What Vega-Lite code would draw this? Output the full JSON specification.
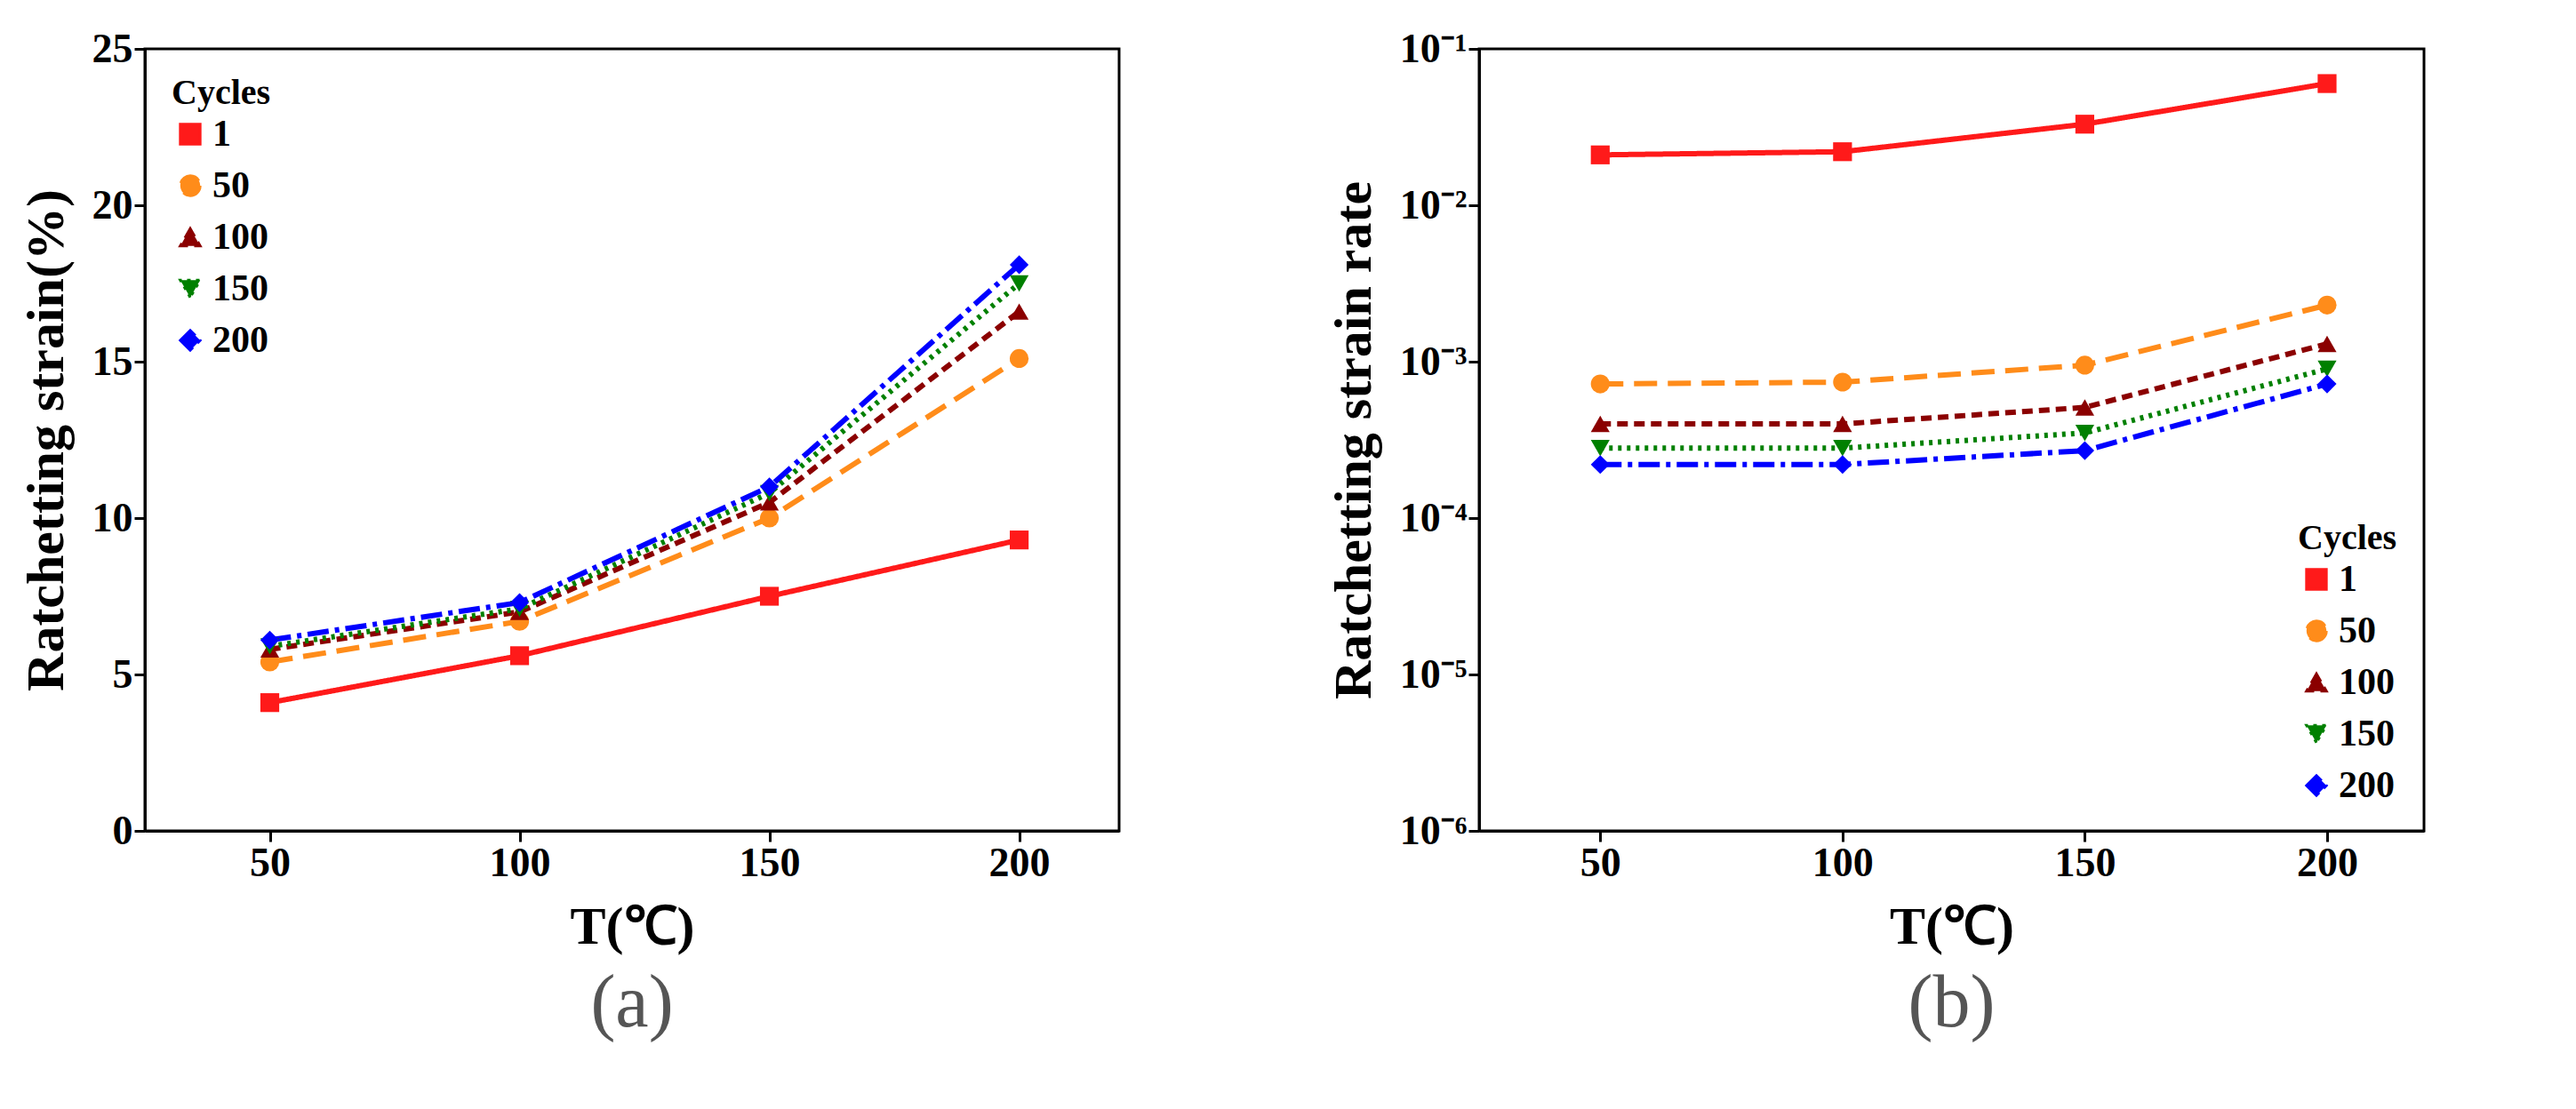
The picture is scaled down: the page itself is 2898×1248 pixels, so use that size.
{
  "$schema": "https://vega.github.io/schema/vega-lite/v6.json",
  "background": "white",
  "padding": {"left": 20, "top": 30, "right": 30, "bottom": 5},
  "spacing": 230,
  "config": {
    "font": "Liberation Serif",
    "view": {"stroke": "black", "strokeWidth": 3},
    "axis": {
      "labelFont": "Liberation Serif", "labelFontWeight": "bold", "labelFontSize": 46, "labelColor": "black",
      "titleFont": "Liberation Serif", "titleFontWeight": "bold", "titleFontSize": 60, "titleColor": "black",
      "domainColor": "black", "domainWidth": 3, "tickColor": "black", "tickWidth": 3, "tickSize": 12, "grid": false
    },
    "legend": {
      "labelFont": "Liberation Serif", "labelFontWeight": "bold", "labelFontSize": 42, "labelColor": "black",
      "titleFont": "Liberation Serif", "titleFontWeight": "bold", "titleFontSize": 40, "titleColor": "black",
      "symbolSize": 500, "symbolStrokeWidth": 3, "rowPadding": 16, "offset": 30
    },
    "title": {"font": "Liberation Serif", "fontSize": 84, "fontWeight": "normal", "color": "#555555", "orient": "bottom", "offset": 16}
  },
  "data": {"values": [
    {"T": 50, "cycle": "1", "strain": 4.1, "rate": 0.021},
    {"T": 100, "cycle": "1", "strain": 5.6, "rate": 0.022},
    {"T": 150, "cycle": "1", "strain": 7.5, "rate": 0.033},
    {"T": 200, "cycle": "1", "strain": 9.3, "rate": 0.06},
    {"T": 50, "cycle": "50", "strain": 5.4, "rate": 0.00072},
    {"T": 100, "cycle": "50", "strain": 6.7, "rate": 0.00074},
    {"T": 150, "cycle": "50", "strain": 10.0, "rate": 0.00095},
    {"T": 200, "cycle": "50", "strain": 15.1, "rate": 0.0023},
    {"T": 50, "cycle": "100", "strain": 5.8, "rate": 0.0004},
    {"T": 100, "cycle": "100", "strain": 7.0, "rate": 0.0004},
    {"T": 150, "cycle": "100", "strain": 10.5, "rate": 0.00051},
    {"T": 200, "cycle": "100", "strain": 16.6, "rate": 0.0013},
    {"T": 50, "cycle": "150", "strain": 5.9, "rate": 0.00028},
    {"T": 100, "cycle": "150", "strain": 7.1, "rate": 0.00028},
    {"T": 150, "cycle": "150", "strain": 10.8, "rate": 0.00035},
    {"T": 200, "cycle": "150", "strain": 17.5, "rate": 0.0009},
    {"T": 50, "cycle": "200", "strain": 6.1, "rate": 0.00022},
    {"T": 100, "cycle": "200", "strain": 7.3, "rate": 0.00022},
    {"T": 150, "cycle": "200", "strain": 11.0, "rate": 0.00027},
    {"T": 200, "cycle": "200", "strain": 18.1, "rate": 0.00072}
  ]},
  "hconcat": [
    {
      "title": "(a)",
      "width": 1096, "height": 880,
      "encoding": {
        "x": {"field": "T", "type": "quantitative", "title": "T(℃)", "scale": {"domain": [25, 220]}, "axis": {"values": [50, 100, 150, 200], "titlePadding": 20}},
        "y": {"field": "strain", "type": "quantitative", "title": "Ratchetting strain(%)", "scale": {"domain": [0, 25]}, "axis": {"values": [0, 5, 10, 15, 20, 25], "titlePadding": 20}},
        "color": {"field": "cycle", "type": "nominal", "title": "Cycles", "scale": {"domain": ["1", "50", "100", "150", "200"], "range": ["#ff1a1a", "#ff8c1a", "#8b0000", "#008000", "#0000ff"]}, "legend": {"orient": "top-left"}},
        "shape": {"field": "cycle", "type": "nominal", "title": "Cycles", "scale": {"domain": ["1", "50", "100", "150", "200"], "range": ["square", "circle", "triangle-up", "triangle-down", "diamond"]}},
        "strokeDash": {"field": "cycle", "type": "nominal", "title": "Cycles", "scale": {"domain": ["1", "50", "100", "150", "200"], "range": [[1, 0], [26, 12], [12, 7], [4, 6], [24, 7, 5, 7]]}}
      },
      "layer": [
        {"mark": {"type": "line", "strokeWidth": 6}},
        {"mark": {"type": "point", "filled": true, "size": 450, "opacity": 1}}
      ]
    },
    {
      "title": "(b)",
      "width": 1063, "height": 880,
      "encoding": {
        "x": {"field": "T", "type": "quantitative", "title": "T(℃)", "scale": {"domain": [25, 220]}, "axis": {"values": [50, 100, 150, 200], "titlePadding": 20}},
        "y": {"field": "rate", "type": "quantitative", "title": "Ratchetting strain rate", "scale": {"type": "log", "domain": [0.000001, 0.1]}, "axis": {"values": [0.000001, 0.00001, 0.0001, 0.001, 0.01, 0.1], "labelExpr": "datum.value < 0.000005 ? '10⁻⁶' : datum.value < 0.00005 ? '10⁻⁵' : datum.value < 0.0005 ? '10⁻⁴' : datum.value < 0.005 ? '10⁻³' : datum.value < 0.05 ? '10⁻²' : '10⁻¹'", "titlePadding": 20}},
        "color": {"field": "cycle", "type": "nominal", "title": "Cycles", "scale": {"domain": ["1", "50", "100", "150", "200"], "range": ["#ff1a1a", "#ff8c1a", "#8b0000", "#008000", "#0000ff"]}, "legend": {"orient": "bottom-right"}},
        "shape": {"field": "cycle", "type": "nominal", "title": "Cycles", "scale": {"domain": ["1", "50", "100", "150", "200"], "range": ["square", "circle", "triangle-up", "triangle-down", "diamond"]}},
        "strokeDash": {"field": "cycle", "type": "nominal", "title": "Cycles", "scale": {"domain": ["1", "50", "100", "150", "200"], "range": [[1, 0], [26, 12], [12, 7], [4, 6], [24, 7, 5, 7]]}}
      },
      "layer": [
        {"mark": {"type": "line", "strokeWidth": 6}},
        {"mark": {"type": "point", "filled": true, "size": 450, "opacity": 1}}
      ]
    }
  ],
  "resolve": {"scale": {"y": "independent"}, "legend": {"color": "independent", "shape": "independent", "strokeDash": "independent"}}
}
